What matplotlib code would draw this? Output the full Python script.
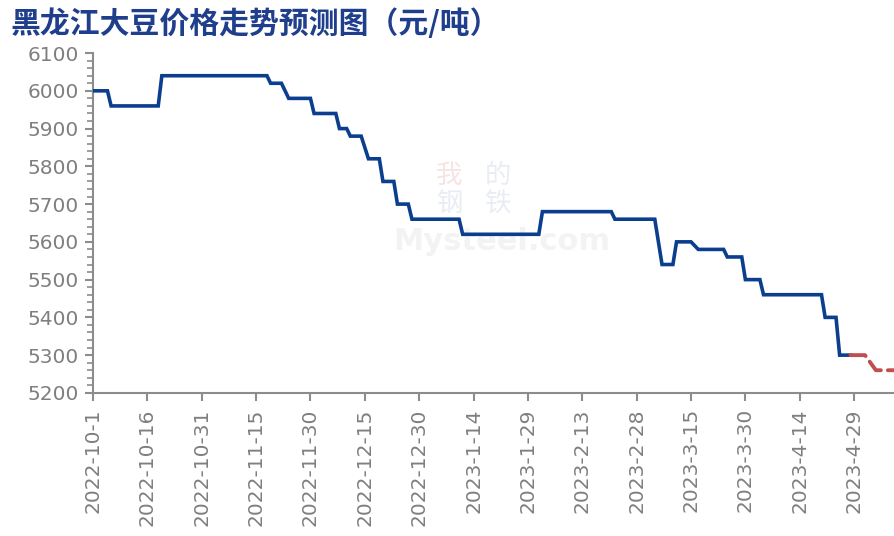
import numpy as np
import pandas as pd
import matplotlib
matplotlib.use('Agg')
import matplotlib.pyplot as plt
from matplotlib.ticker import MultipleLocator

plt.rcParams['font.family'] = ['DejaVu Sans']

# price history (corner points of the step line)
hist_dates = ['2022-10-01', '2022-10-05', '2022-10-06', '2022-10-19', '2022-10-20',
              '2022-11-18', '2022-11-19', '2022-11-22', '2022-11-24', '2022-11-30',
              '2022-12-01', '2022-12-07', '2022-12-08', '2022-12-10', '2022-12-11',
              '2022-12-14', '2022-12-16', '2022-12-19', '2022-12-20', '2022-12-23',
              '2022-12-24', '2022-12-27', '2022-12-28', '2023-01-10', '2023-01-11',
              '2023-02-01', '2023-02-02', '2023-02-21', '2023-02-22', '2023-03-05',
              '2023-03-07', '2023-03-10', '2023-03-11', '2023-03-15', '2023-03-17',
              '2023-03-24', '2023-03-25', '2023-03-29', '2023-03-30', '2023-04-03',
              '2023-04-04', '2023-04-20', '2023-04-21', '2023-04-24', '2023-04-25',
              '2023-04-28']
hist_prices = [6000, 6000, 5960, 5960, 6040,
               6040, 6020, 6020, 5980, 5980,
               5940, 5940, 5900, 5900, 5880,
               5880, 5820, 5820, 5760, 5760,
               5700, 5700, 5660, 5660, 5620,
               5620, 5680, 5680, 5660, 5660,
               5540, 5540, 5600, 5600, 5580,
               5580, 5560, 5560, 5500, 5500,
               5460, 5460, 5400, 5400, 5300,
               5300]

# forecast
fcst_dates = ['2023-04-28', '2023-05-02', '2023-05-05', '2023-05-10']
fcst_prices = [5300, 5300, 5260, 5260]

tick_labels = ['2022-10-1', '2022-10-16', '2022-10-31', '2022-11-15', '2022-11-30',
               '2022-12-15', '2022-12-30', '2023-1-14', '2023-1-29', '2023-2-13',
               '2023-2-28', '2023-3-15', '2023-3-30', '2023-4-14', '2023-4-29']

title = '黑龙江大豆价格走势预测图（元/吨）'

hd = pd.to_datetime(hist_dates)
fd = pd.to_datetime(fcst_dates)
td = pd.to_datetime(tick_labels)

fig = plt.figure(figsize=(8.94, 5.36), dpi=100)
ax = fig.add_axes([0.104, 0.267, 0.896, 0.634])

grey = '#8C8C8C'

# faint watermark
cjk = ['Noto Sans CJK SC']
ax.text(0.445, 0.64, '我', transform=ax.transAxes, ha='center', va='center',
        fontsize=19, color='#F6E4E4', family=cjk, zorder=0)
ax.text(0.505, 0.64, '的', transform=ax.transAxes, ha='center', va='center',
        fontsize=19, color='#E9ECF4', family=cjk, zorder=0)
ax.text(0.445, 0.555, '钢', transform=ax.transAxes, ha='center', va='center',
        fontsize=19, color='#E9ECF4', family=cjk, zorder=0)
ax.text(0.505, 0.555, '铁', transform=ax.transAxes, ha='center', va='center',
        fontsize=19, color='#E9ECF4', family=cjk, zorder=0)
ax.text(0.51, 0.445, 'Mysteel.com', transform=ax.transAxes, ha='center', va='center',
        fontsize=22, color='#F3F3F3', fontweight='bold', zorder=0)

ax.plot(hd, hist_prices, color='#0B3E8E', lw=2.6, solid_joinstyle='miter', zorder=3)
ax.plot(fd, fcst_prices, color='#C0504D', lw=2.8, dashes=(4, 1.8),
        dash_capstyle='round', zorder=3)

ax.set_ylim(5200, 6100)
ax.yaxis.set_major_locator(MultipleLocator(100))
ax.yaxis.set_minor_locator(MultipleLocator(20))
ax.set_xlim(hd[0], fd[-1])
ax.set_xticks(td)
ax.set_xticklabels(tick_labels, rotation=90)

for s in ['top', 'right']:
    ax.spines[s].set_visible(False)
for s in ['left', 'bottom']:
    ax.spines[s].set_color(grey)
    ax.spines[s].set_linewidth(1.5)

ax.tick_params(axis='both', which='major', colors=grey, labelcolor='#7F7F7F',
               labelsize=14.5, length=6, width=1.5)
ax.tick_params(axis='y', which='minor', colors=grey, length=4, width=1.2)
ax.tick_params(axis='x', pad=5)
ax.tick_params(axis='y', pad=4)

fig.text(0.012, 0.985, title, ha='left', va='top', fontsize=21.5, fontweight='bold',
         color='#1F3E8C', family=['Noto Sans CJK SC', 'DejaVu Sans'])

fig.savefig('out.png', dpi=100)
